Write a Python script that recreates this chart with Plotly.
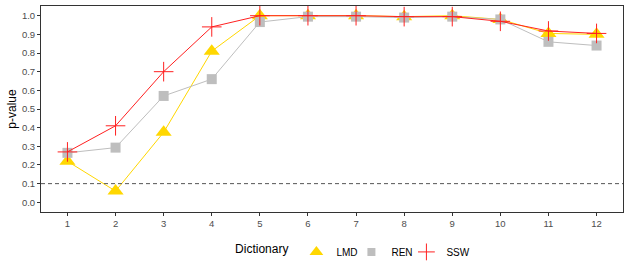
import plotly.graph_objects as go

x_vals = [1, 2, 3, 4, 5, 6, 7, 8, 9, 10, 11, 12]
lmd = [0.22, 0.06, 0.375, 0.81, 1.0, 1.0, 1.0, 0.995, 1.0, 0.98, 0.905, 0.9]
ren = [0.265, 0.293, 0.57, 0.66, 0.966, 0.995, 0.995, 0.99, 0.995, 0.98, 0.86, 0.84]
ssw = [0.27, 0.41, 0.70, 0.94, 1.0, 1.0, 1.0, 0.995, 0.995, 0.97, 0.918, 0.905]
y_ticks = [0.0, 0.1, 0.2, 0.3, 0.4, 0.5, 0.6, 0.7, 0.8, 0.9, 1.0]
threshold = 0.1

series = [
    ("LMD", lmd, "#FFD700", "triangle-up", 14, 0, 10),
    ("REN", ren, "#BEBEBE", "square", 10, 0, 10),
    ("SSW", ssw, "#FF2020", "cross-thin", 14, 1, 30),
]

fig = go.Figure()
for name, vals, col, sym, size, lw, lgw in series:
    fig.add_trace(go.Scatter(
        x=x_vals, y=vals, mode="lines+markers", name=name, showlegend=False,
        line=dict(color=col, width=1),
        marker=dict(symbol=sym, size=size, color=col, line=dict(color=col, width=lw)),
    ))
for name, vals, col, sym, size, lw, lgw in series:
    fig.add_trace(go.Scatter(
        x=[None], y=[None], mode="markers", name=name, showlegend=True,
        legendwidth=lgw,
        marker=dict(symbol=sym, size=size - 2, color=col, line=dict(color=col, width=lw)),
    ))

fig.add_hline(y=threshold, line=dict(color="#555555", width=1, dash="4px,3px"))

axis_common = dict(
    showgrid=False, zeroline=False, showline=True, mirror=True,
    linecolor="#333333", linewidth=1,
    ticks="outside", ticklen=3, tickcolor="#333333",
    tickfont=dict(family="Liberation Sans, Arial", size=9.5, color="#4D4D4D"),
)

fig.update_layout(
    width=630, height=270,
    margin=dict(l=41, r=7, t=6, b=58, autoexpand=False),
    plot_bgcolor="white", paper_bgcolor="white",
    font=dict(family="Liberation Sans, Arial", color="black"),
    xaxis=dict(range=[0.45, 12.55], tickmode="array", tickvals=x_vals,
               ticktext=[str(v) for v in x_vals], **axis_common),
    yaxis=dict(range=[-0.052, 1.052], tickmode="array", tickvals=y_ticks,
               ticktext=[f"{v:.1f}" for v in y_ticks],
               title=dict(text="p-value", font=dict(size=12), standoff=2), **axis_common),
    legend=dict(orientation="h", x=0.33, xanchor="left",
                yref="container", y=0.067, yanchor="middle",
                title=dict(text="Dictionary", font=dict(size=12)),
                font=dict(size=10), itemwidth=30, tracegroupgap=0),
)

fig.write_html("out.html", post_script="document.body.style.margin='0';",
               config={"displayModeBar": False})
